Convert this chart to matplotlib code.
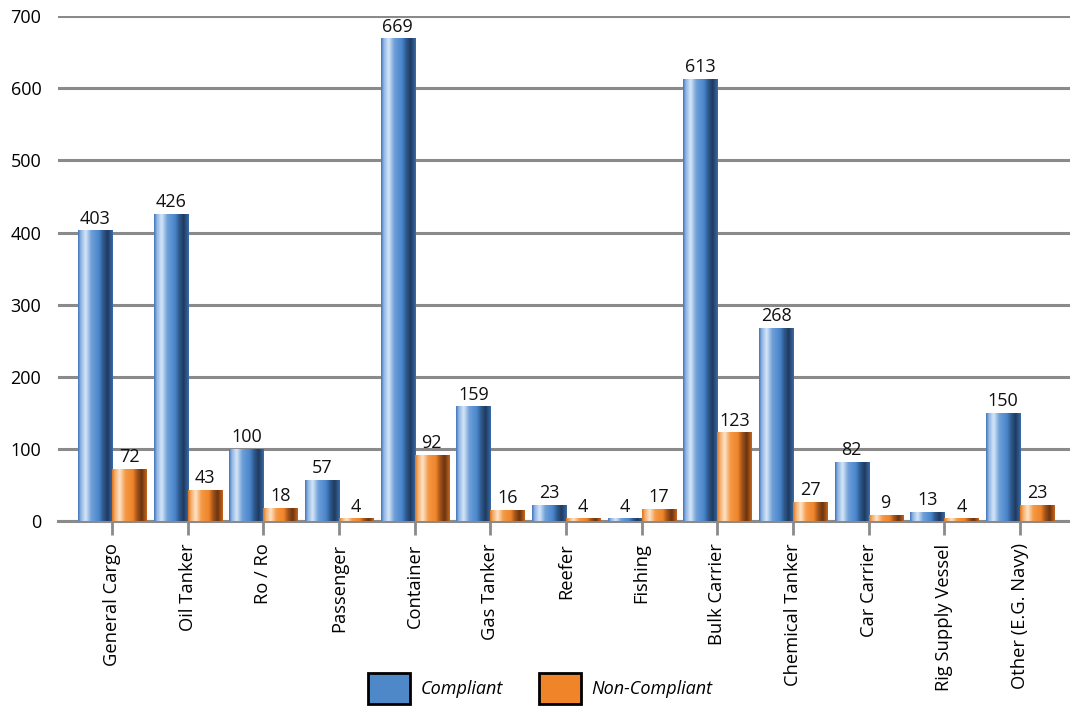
import numpy as np
import matplotlib
matplotlib.use("Agg")
import matplotlib.pyplot as plt
from matplotlib.colors import LinearSegmentedColormap
from matplotlib.patches import Patch

categories = ["General Cargo", "Oil Tanker", "Ro / Ro", "Passenger", "Container",
              "Gas Tanker", "Reefer", "Fishing", "Bulk Carrier", "Chemical Tanker",
              "Car Carrier", "Rig Supply Vessel", "Other (E.G. Navy)"]
compliant = [403, 426, 100, 57, 669, 159, 23, 4, 613, 268, 82, 13, 150]
non_compliant = [72, 43, 18, 4, 92, 16, 4, 17, 123, 27, 9, 4, 23]
y_ticks = [0, 100, 200, 300, 400, 500, 600, 700]
series_names = ["Compliant", "Non-Compliant"]

plt.rcParams['font.family'] = ['Open Sans', 'DejaVu Sans']

fig = plt.figure(figsize=(10.7, 7.12), dpi=100)
ax = fig.add_axes([0.0542, 0.268, 0.9458, 0.7095])

blue_cmap = LinearSegmentedColormap.from_list("b", [
    (0.0, "#3f74b8"), (0.08, "#8fb4e4"), (0.22, "#d6e6f8"), (0.38, "#6f9fd8"),
    (0.6, "#4a86cc"), (0.72, "#2f5a8e"), (0.85, "#1f3a5e"), (1.0, "#3a6cab")])
orange_cmap = LinearSegmentedColormap.from_list("o", [
    (0.0, "#d8731c"), (0.08, "#f4aa66"), (0.22, "#fde4c8"), (0.38, "#f59a48"),
    (0.6, "#ee8428"), (0.72, "#a2521a"), (0.85, "#6a3410"), (1.0, "#c9661c")])

x = np.arange(len(categories))
w = 0.45
grad = np.linspace(0, 1, 256).reshape(1, -1)

bars_c = ax.bar(x - w / 2, compliant, w, color="#4f88c9", zorder=3)
bars_n = ax.bar(x + w / 2, non_compliant, w, color="#f08428", zorder=3)

for bars, cmap in ((bars_c, blue_cmap), (bars_n, orange_cmap)):
    for b in bars:
        x0 = b.get_x()
        im = ax.imshow(grad, cmap=cmap, aspect="auto", zorder=4,
                       extent=(x0, x0 + b.get_width(), 0, b.get_height()),
                       interpolation="bilinear")
        im.set_clip_path(b)

for bars, vals in ((bars_c, compliant), (bars_n, non_compliant)):
    for b, v in zip(bars, vals):
        ax.annotate(str(v), (b.get_x() + b.get_width() / 2, b.get_height()),
                    xytext=(0, 2), textcoords="offset points",
                    ha="center", va="bottom", fontsize=13, color="#111111", zorder=5)

ax.set_xlim(-0.714, 12.66)
ax.set_ylim(0, 700)
ax.set_yticks(y_ticks)
ax.set_yticklabels([str(t) for t in y_ticks], fontsize=13)
ax.yaxis.grid(True, color="#8a8a8a", linewidth=2.2, zorder=1)
ax.set_axisbelow(True)
ax.tick_params(axis="y", length=0, pad=12)
ax.set_xticks(x)
ax.set_xticklabels(categories, rotation=90, fontsize=13.2)
ax.tick_params(axis="x", length=10, width=2, color="#8a8a8a", pad=6)
for s in ["top", "right", "left"]:
    ax.spines[s].set_visible(False)
ax.spines["bottom"].set_color("#8a8a8a")
ax.spines["bottom"].set_linewidth(2.2)

handles = [Patch(facecolor="#4f88c9", edgecolor="black", linewidth=2),
           Patch(facecolor="#f08428", edgecolor="black", linewidth=2)]
leg = fig.legend(handles, series_names, loc="lower center", bbox_to_anchor=(0.505, -0.012),
                 ncol=2, frameon=False, handlelength=2.3, handleheight=2.3,
                 columnspacing=2.0, handletextpad=0.6,
                 prop={"style": "italic", "size": 13})

fig.savefig("out.png", dpi=100)
